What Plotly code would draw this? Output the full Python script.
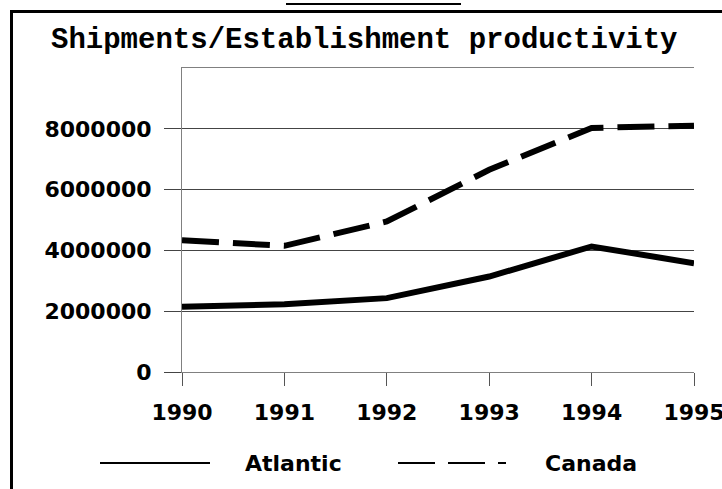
import plotly.graph_objects as go

# ---- data ----
years = [1990, 1991, 1992, 1993, 1994, 1995]
atlantic = [2150000, 2230000, 2430000, 3140000, 4130000, 3580000]
canada = [4330000, 4150000, 4950000, 6650000, 8030000, 8100000]
y_tickvals = [0, 2000000, 4000000, 6000000, 8000000]
y_ticktext = ["0", "2000000", "4000000", "6000000", "8000000"]
x_ticktext = ["1990", "1991", "1992", "1993", "1994", "1995"]
series_names = ["Atlantic", "Canada"]
title_text = "Shipments/Establishment productivity"

W, H = 722, 489
L, R, T, B = 182, 28, 68, 117
PW, PH = W - L - R, H - T - B


def px(x):
    return (x - L) / PW


def py(y):
    return (H - B - y) / PH


fig = go.Figure()
fig.add_trace(go.Scatter(x=years, y=atlantic, mode="lines", name=series_names[0],
                         line=dict(color="black", width=6)))
fig.add_trace(go.Scatter(x=years, y=canada, mode="lines", name=series_names[1],
                         line=dict(color="black", width=6, dash="37px,14px")))

tick_font = dict(family="DejaVu Sans", size=22, color="black", weight="bold")

fig.update_layout(
    width=W, height=H,
    margin=dict(l=L, r=R, t=T, b=B, pad=0, autoexpand=False),
    paper_bgcolor="white", plot_bgcolor="white",
    showlegend=False,
    xaxis=dict(range=[1990, 1995], tickvals=years, ticktext=x_ticktext,
               showgrid=False, zeroline=False, showline=True, linecolor="#808080",
               linewidth=1, mirror=True, ticks="outside", ticklen=13, tickcolor="#555",
               tickfont=tick_font, ticklabelstandoff=8, ticklabeloverflow="allow",
               automargin=False),
    yaxis=dict(range=[0, 10000000], tickvals=y_tickvals, ticktext=y_ticktext,
               showgrid=True, gridcolor="#444", gridwidth=1, zeroline=False,
               showline=True, linecolor="#808080", linewidth=1,
               ticks="outside", ticklen=17, tickcolor="#444",
               tickfont=tick_font, ticklabelstandoff=8, ticklabeloverflow="allow",
               automargin=False),
)

shapes = [
    # outer frame (left and top)
    dict(type="line", xref="paper", yref="paper", x0=px(11.5), x1=px(11.5), y0=py(10), y1=py(495),
         line=dict(color="black", width=3)),
    dict(type="line", xref="paper", yref="paper", x0=px(10), x1=px(730), y0=py(11.5), y1=py(11.5),
         line=dict(color="black", width=3)),
    # underline of cut-off heading
    dict(type="line", xref="paper", yref="paper", x0=px(286), x1=px(461), y0=py(4), y1=py(4),
         line=dict(color="black", width=2)),
    # legend samples
    dict(type="line", xref="paper", yref="paper", x0=px(100), x1=px(210), y0=py(463), y1=py(463),
         line=dict(color="black", width=2)),
    dict(type="line", xref="paper", yref="paper", x0=px(398), x1=px(506), y0=py(463), y1=py(463),
         line=dict(color="black", width=2, dash="37px,13px")),
]
fig.update_layout(shapes=shapes)

fig.add_annotation(text=title_text, xref="paper", yref="paper", x=px(364), y=py(40),
                   xanchor="center", yanchor="middle", showarrow=False,
                   font=dict(family="Liberation Mono, Courier New, Courier, monospace",
                             size=29, color="black", weight="bold"))
fig.add_annotation(text=series_names[0], xref="paper", yref="paper", x=px(243), y=py(463),
                   xanchor="left", yanchor="middle", showarrow=False,
                   font=dict(family="DejaVu Sans", size=22, color="black", weight="bold"))
fig.add_annotation(text=series_names[1], xref="paper", yref="paper", x=px(543), y=py(463),
                   xanchor="left", yanchor="middle", showarrow=False,
                   font=dict(family="DejaVu Sans", size=22, color="black", weight="bold"))

fig.write_html("out.html", config={"displayModeBar": False},
               post_script="document.body.style.margin='0';document.body.style.overflow='hidden';")
